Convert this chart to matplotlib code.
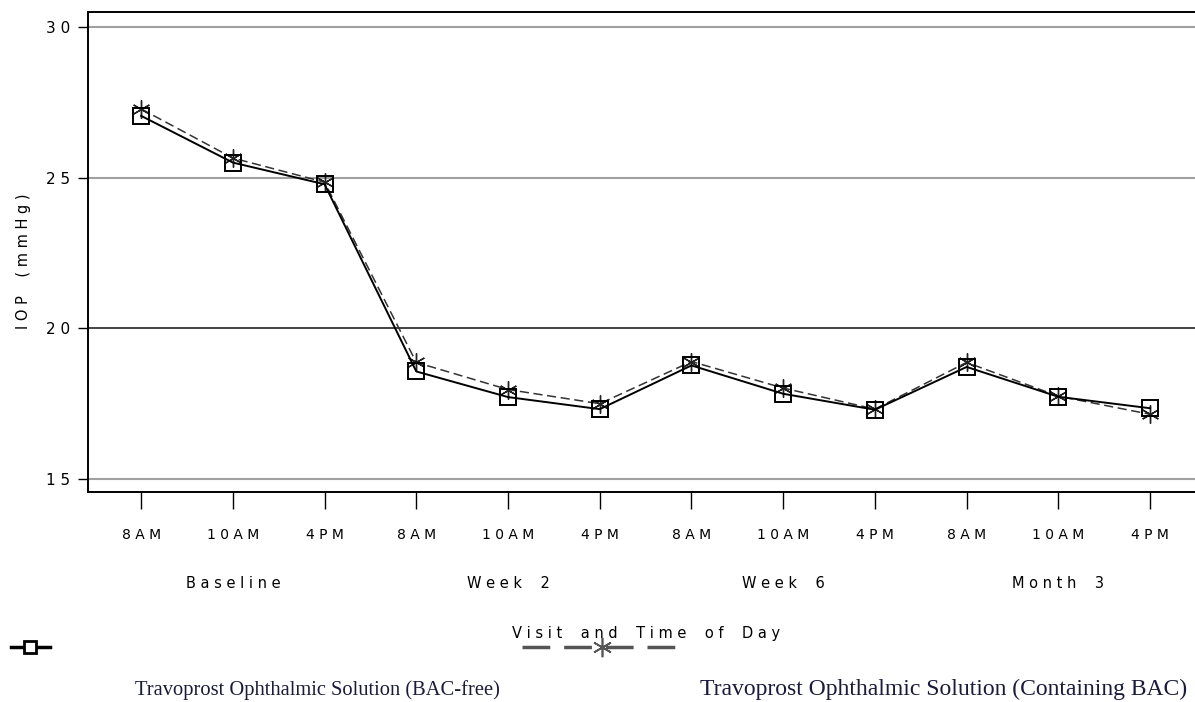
import matplotlib.pyplot as plt
from matplotlib.lines import Line2D

times = ['8AM', '10AM', '4PM'] * 4
visits = ['Baseline', 'Week 2', 'Week 6', 'Month 3']
bac_free = [27.05, 25.5, 24.78, 18.57, 17.72, 17.32, 18.77, 17.83, 17.3, 18.72, 17.73, 17.35]
bac_cont = [27.28, 25.65, 24.85, 18.87, 17.97, 17.5, 18.9, 18.02, 17.32, 18.87, 17.75, 17.15]
legend_labels = ['Travoprost Ophthalmic Solution (BAC-free)',
                 'Travoprost Ophthalmic Solution (Containing BAC)']


def spaced(s):
    # wide letter spacing like the original plot's stroke font
    return '    '.join(' '.join(w) for w in s.split(' '))


fig = plt.figure(figsize=(11.95, 7.02), dpi=100)
ax = fig.add_axes([0.0736, 0.2991, 0.9264, 0.684])

x = list(range(len(times)))
for yv in [15, 25, 30]:
    ax.axhline(yv, color='#a0a0a0', lw=1.5, zorder=0)
ax.axhline(20, color='#222222', lw=1.2, zorder=0)

ax.plot(x, bac_cont, color='#333333', lw=1.1, ls=(0, (6, 3)),
        marker=(6, 2, 0), ms=13, mew=1.0, mec='#222222', zorder=3)
ax.plot(x, bac_free, color='black', lw=1.4, marker='s', ms=12,
        mfc='none', mec='black', mew=1.4, zorder=4)

ax.set_xlim(-0.58, 11.49)
ax.set_ylim(14.57, 30.5)
ax.set_yticks([15, 20, 25, 30])
ax.set_yticklabels(['1 5', '2 0', '2 5', '3 0'])
ax.set_xticks(x)
ax.set_xticklabels([spaced(t) for t in times])
ax.tick_params(axis='x', length=12, width=1, pad=14, labelsize=10)
ax.tick_params(axis='y', length=7, width=1, pad=6, labelsize=11)
for s in ['top', 'left', 'bottom']:
    ax.spines[s].set_linewidth(1.4)
ax.spines['right'].set_visible(False)

for i, v in enumerate(visits):
    ax.text(3 * i + 1, -0.19, spaced(v), transform=ax.get_xaxis_transform(),
            ha='center', va='center', fontsize=10.5)
ax.text(5.5, -0.294, spaced('Visit and Time of Day'),
        transform=ax.get_xaxis_transform(), ha='center', va='center', fontsize=10.5)
ax.text(-0.058, 0.48, spaced('IOP (mmHg)'), transform=ax.transAxes, rotation=90,
        ha='center', va='center', fontsize=10.5)

# legend drawn at the bottom of the figure
fig.add_artist(Line2D([0.009, 0.042], [0.079, 0.079], color='black', lw=2.5,
                      transform=fig.transFigure))
fig.add_artist(Line2D([0.0255], [0.079], marker='s', ms=9, mfc='white', mec='black',
                      mew=2, ls='none', transform=fig.transFigure))
fig.add_artist(Line2D([0.437, 0.572], [0.079, 0.079], color='#555555', lw=2.5,
                      ls=(0, (8, 4)), transform=fig.transFigure))
fig.add_artist(Line2D([0.504], [0.079], marker=(6, 2, 0), ms=14, mec='#555555',
                      mew=1.2, ls='none', transform=fig.transFigure))
fig.text(0.113, 0.003, legend_labels[0], family='Liberation Serif', fontsize=14.8,
         color='#1a1a3a', ha='left', va='bottom')
fig.text(0.586, 0.003, legend_labels[1], family='Liberation Serif', fontsize=17,
         color='#1a1a3a', ha='left', va='bottom')

fig.savefig('out.png', dpi=100)
